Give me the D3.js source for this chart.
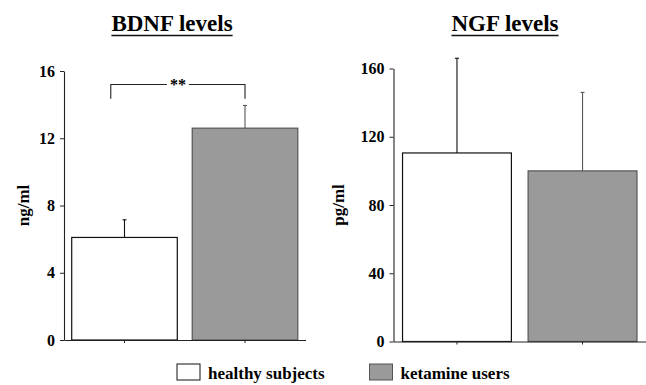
<!DOCTYPE html>
<html>
<head>
<meta charset="utf-8">
<script src="https://cdn.jsdelivr.net/npm/d3@7"></script>
<style>
  body { margin: 0; background: #fff; }
  svg { display: block; font-family: "Liberation Serif", "Times New Roman", serif; font-weight: bold; }
</style>
</head>
<body>
<script>
var width = 646, height = 385;

// data
var groups = ["healthy subjects", "ketamine users"];
var bdnfMeans = [6.1, 12.6];
var bdnfErrors = [1.05, 1.35];
var bdnfTicks = [0, 4, 8, 12, 16];
var ngfMeans = [110.5, 100];
var ngfErrors = [55.5, 46];
var ngfTicks = [0, 40, 80, 120, 160];
var fills = ["#ffffff", "#9a9a9a"];
var strokes = ["#111", "#555"];

const svg = d3.select("body").append("svg")
    .attr("width", width)
    .attr("height", height);

function panel(opts) {
  var x = d3.scaleBand()
      .domain(groups)
      .range([opts.left, opts.right])
      .paddingInner(opts.pi)
      .paddingOuter(opts.po);
  var y = d3.scaleLinear()
      .domain([0, opts.max])
      .range([opts.bottom, opts.top]);

  var g = svg.append("g");

  // title
  var t = g.append("text")
      .attr("x", opts.titleX)
      .attr("y", 31)
      .attr("text-anchor", "middle")
      .attr("font-size", 23)
      .attr("fill", "#000")
      .text(opts.title);
  var bb = t.node().getBBox();
  g.append("line")
      .attr("x1", bb.x).attr("x2", bb.x + bb.width)
      .attr("y1", 35.5).attr("y2", 35.5)
      .attr("stroke", "#111")
      .attr("stroke-width", 1.6);

  // bars
  g.selectAll("rect.bar")
    .data(opts.means)
    .join("rect")
      .attr("class", "bar")
      .attr("x", (d, i) => x(groups[i]))
      .attr("y", d => y(d))
      .attr("width", x.bandwidth())
      .attr("height", d => y(0) - y(d))
      .attr("fill", (d, i) => fills[i])
      .attr("stroke", (d, i) => strokes[i])
      .attr("stroke-width", 1.2);

  // error bars (upper only)
  var eb = g.selectAll("g.err")
    .data(opts.means)
    .join("g")
      .attr("stroke", (d, i) => strokes[i])
      .attr("stroke-width", 1.1);
  eb.append("line")
      .attr("x1", (d, i) => x(groups[i]) + x.bandwidth() / 2)
      .attr("x2", (d, i) => x(groups[i]) + x.bandwidth() / 2)
      .attr("y1", d => y(d))
      .attr("y2", (d, i) => y(d + opts.errors[i]));
  eb.append("line")
      .attr("x1", (d, i) => x(groups[i]) + x.bandwidth() / 2 - 2)
      .attr("x2", (d, i) => x(groups[i]) + x.bandwidth() / 2 + 2)
      .attr("y1", (d, i) => y(d + opts.errors[i]))
      .attr("y2", (d, i) => y(d + opts.errors[i]));

  // y axis
  var ya = g.append("g")
      .attr("transform", `translate(${opts.left},0)`)
      .call(d3.axisLeft(y).tickValues(opts.ticks).tickSize(4).tickPadding(5).tickSizeOuter(0));
  ya.select(".domain").attr("stroke", "#222").attr("stroke-width", 1.1);
  ya.selectAll(".tick line").attr("stroke", "#222");
  ya.selectAll(".tick text")
      .attr("font-family", "Liberation Serif, serif")
      .attr("font-weight", "bold")
      .attr("font-size", 16)
      .attr("fill", "#000");

  // x axis
  var xa = g.append("g")
      .attr("transform", `translate(0,${opts.bottom})`)
      .call(d3.axisBottom(x).tickSize(3).tickSizeOuter(0).tickFormat(""));
  xa.select(".domain").attr("stroke", "#222").attr("stroke-width", 1.1);
  xa.selectAll(".tick line").attr("stroke", "#222");

  // y label
  g.append("text")
      .attr("transform", `translate(${opts.labelX},${(opts.top + opts.bottom) / 2}) rotate(-90)`)
      .attr("text-anchor", "middle")
      .attr("font-size", 17)
      .attr("fill", "#000")
      .text(opts.unit);

  return {x: x, y: y, g: g};
}

var left = panel({
  title: "BDNF levels", titleX: 172, unit: "ng/ml", labelX: 29,
  left: 64, right: 305.5, pi: 0.124, po: 0.064,
  top: 71, bottom: 340, max: 16,
  means: bdnfMeans, errors: bdnfErrors, ticks: bdnfTicks
});

var right = panel({
  title: "NGF levels", titleX: 505, unit: "pg/ml", labelX: 344,
  left: 393.5, right: 646, pi: 0.133, po: 0.072,
  top: 68.5, bottom: 341.5, max: 160,
  means: ngfMeans, errors: ngfErrors, ticks: ngfTicks
});

// significance bracket
var bx = left.x, by = left.y;
var x1 = bx(groups[0]) + bx.bandwidth() * 0.37;
var x2 = bx(groups[1]) + bx.bandwidth() / 2;
var yTop = by(15.2), yEnd = by(14.35);
var mid = (x1 + x2) / 2;
left.g.append("path")
    .attr("d", `M${x1},${yEnd}V${yTop}H${mid - 11}M${mid + 11},${yTop}H${x2}V${yEnd}`)
    .attr("fill", "none")
    .attr("stroke", "#222")
    .attr("stroke-width", 1.1);
left.g.append("text")
    .attr("x", mid)
    .attr("y", yTop + 6)
    .attr("text-anchor", "middle")
    .attr("font-size", 16)
    .attr("fill", "#000")
    .text("**");

// legend
var legendX = [177, 369.5];
var legend = svg.append("g")
  .selectAll("g")
  .data(groups)
  .join("g")
    .attr("transform", (d, i) => `translate(${legendX[i]},364)`);
legend.append("rect")
    .attr("width", 23)
    .attr("height", 16)
    .attr("fill", (d, i) => fills[i])
    .attr("stroke", (d, i) => strokes[i])
    .attr("stroke-width", 1);
legend.append("text")
    .attr("x", 31)
    .attr("y", 15)
    .attr("font-size", 17)
    .attr("fill", "#000")
    .text(d => d);
</script>
</body>
</html>
